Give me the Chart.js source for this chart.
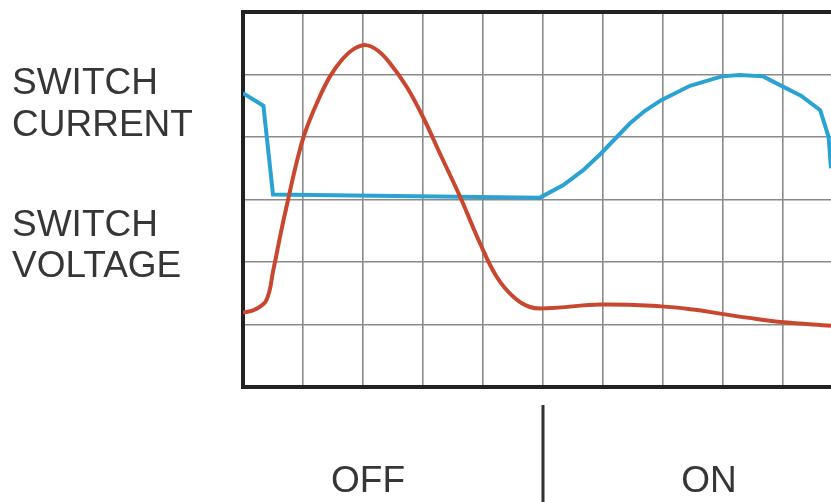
<!DOCTYPE html>
<html>
<head>
<meta charset="utf-8">
<script src="https://cdn.jsdelivr.net/npm/chart.js@4/dist/chart.umd.min.js"></script>
<style>
  html, body { margin: 0; padding: 0; background: #fff; overflow: hidden; }
  #wrap { position: relative; width: 831px; height: 502px; }
  #myChart { position: absolute; left: 0; top: 0; }
  .lbl {
    position: absolute;
    font-family: "Liberation Sans", Arial, sans-serif;
    font-size: 37px;
    line-height: 42px;
    color: #363636;
    white-space: nowrap;
  }
  .state { width: 200px; text-align: center; }
</style>
</head>
<body>
<div id="wrap">
  <canvas id="myChart" width="831" height="502"></canvas>
  <div class="lbl" style="left:12px; top:61px;">SWITCH<br>CURRENT</div>
  <div class="lbl" style="left:12px; top:203px; line-height:41px;">SWITCH<br>VOLTAGE</div>
  <div class="lbl state" style="left:268px; top:459px;">OFF</div>
  <div class="lbl state" style="left:609px; top:459px;">ON</div>
</div>
<script>
// time in grid divisions, level in grid divisions
const voltageTime  = [0, 0.2, 0.39, 0.505, 0.64, 0.75, 0.89, 1.03, 1.23, 1.45, 1.67, 1.85, 2.05, 2.25, 2.45, 2.73, 3.0, 3.28, 3.62, 3.95, 4.23, 4.51, 4.78, 5.06, 5.97, 6.97, 7.5, 7.98, 8.4, 8.96, 9.8];
const voltageLevel = [1.19, 1.24, 1.39, 1.87, 2.51, 2.99, 3.58, 4.06, 4.54, 4.97, 5.26, 5.41, 5.47, 5.38, 5.18, 4.80, 4.32, 3.74, 3.04, 2.30, 1.76, 1.44, 1.28, 1.26, 1.32, 1.29, 1.24, 1.17, 1.11, 1.04, 0.98];

const currentTime  = [0, 0.34, 0.5, 4.95, 5.34, 5.67, 5.97, 6.23, 6.45, 6.7, 6.97, 7.45, 7.98, 8.28, 8.67, 8.95, 9.3, 9.62, 9.76, 9.8];
const currentLevel = [4.7, 4.5, 3.08, 3.03, 3.23, 3.47, 3.74, 4.0, 4.22, 4.42, 4.59, 4.82, 4.97, 4.99, 4.97, 4.83, 4.66, 4.43, 4.0, 3.5];

const xDivisions = 9.8;
const yDivisions = 6;
const switchPoint = 5;

function toPoints(xs, ys) {
    return xs.map((x, i) => ({ x: x, y: ys[i] }));
}

// vertical mark under the plot where the switch turns on
const dividerPlugin = {
    id: 'divider',
    afterDraw(chart) {
        const c = chart.ctx;
        const x = chart.scales.x.getPixelForValue(switchPoint);
        c.save();
        c.strokeStyle = '#333';
        c.lineWidth = 3;
        c.beginPath();
        c.moveTo(x, chart.chartArea.bottom + 18);
        c.lineTo(x, chart.height);
        c.stroke();
        c.restore();
    }
};

const chart = new Chart(document.getElementById('myChart'), {
    type: 'line',
    data: {
        datasets: [{
            label: 'Switch voltage',
            data: toPoints(voltageTime, voltageLevel),
            borderColor: '#c9472f',
            borderWidth: 4,
            pointRadius: 0,
            tension: 0.4
        }, {
            label: 'Switch current',
            data: toPoints(currentTime, currentLevel),
            borderColor: '#2ba3d2',
            borderWidth: 4,
            pointRadius: 0,
            tension: 0
        }]
    },
    options: {
        responsive: false,
        animation: false,
        layout: { padding: { left: 243, top: 12, right: 0, bottom: 115 } },
        plugins: {
            legend: { display: false },
            tooltip: { enabled: false }
        },
        scales: {
            x: {
                type: 'linear',
                min: 0,
                max: xDivisions,
                ticks: { display: false, stepSize: 1, includeBounds: false },
                grid: { color: '#8a8a8a', lineWidth: 1.6, drawTicks: false },
                border: { color: '#222', width: 4 }
            },
            y: {
                min: 0,
                max: yDivisions,
                ticks: { display: false, stepSize: 1 },
                grid: {
                    drawTicks: false,
                    color: (ctx) => ctx.tick && ctx.tick.value === yDivisions ? '#222' : '#8a8a8a',
                    lineWidth: (ctx) => ctx.tick && ctx.tick.value === yDivisions ? 4 : 1.6
                },
                border: { color: '#222', width: 4 }
            }
        }
    },
    plugins: [dividerPlugin]
});
</script>
</body>
</html>
